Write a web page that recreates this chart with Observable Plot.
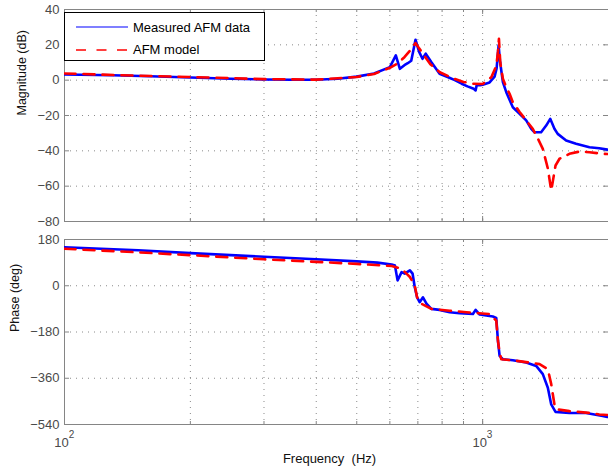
<!DOCTYPE html>
<html><head><meta charset="utf-8">
<script src="https://cdn.jsdelivr.net/npm/d3@7"></script>
<script src="https://cdn.jsdelivr.net/npm/@observablehq/plot@0.6"></script>
<style>
body{margin:0;background:#fff;}
#wrap{position:relative;width:608px;height:474px;font-family:"Liberation Sans",Arial,sans-serif;overflow:hidden;background:#fff}
#wrap svg{position:absolute;left:0}
#legend{position:absolute;left:64px;top:12px;width:199px;height:47px;border:1.5px solid #000;background:#fff;font-size:13px;color:#000}
#legend .row{position:absolute;left:0;height:16px;display:flex;align-items:center}
#legend svg{position:static}
</style></head><body><div id="wrap"></div>
<script>
// ---- data ----
const magFreqMeasured = [100,130,160,200,250,300,350,400,450,500,550,600,620,634,650,662,675,691,705,718,731,755,789,830,858,891,920,952,962,968,985,1000,1039,1068,1080,1092,1100,1118,1139,1181,1226,1271,1307,1331,1380,1419,1451,1485,1512,1584,1673,1801,1900,1988];
const magMeasured     = [3.2,2.8,2.2,1.5,0.8,0.4,0.2,0.2,0.8,2.0,3.8,7.4,14,6.4,8.5,9.6,11,22.9,16,12.1,15,10,3.6,1.5,0,-2.0,-3.5,-4.9,-5.8,-2.8,-2.9,-2.6,-1.3,2,6.6,19.7,11,-1.1,-6.8,-15.3,-19,-22.8,-27.5,-29.5,-29.5,-25.7,-21.9,-27.5,-30.4,-34.2,-36,-38,-38.5,-39.3];
const magFreqModel = [100,150,200,300,400,500,550,600,625,650,675,691,705,720,750,790,850,900,950,1000,1049,1078,1088,1094,1102,1118,1139,1160,1181,1226,1271,1318,1355,1393,1432,1459,1494,1527,1613,1704,1801,1934,1988];
const magModel     = [3.8,2.5,1.8,0.6,0.3,1.8,3.5,7,9.3,13,17.5,21,18,15,9,4.5,1,-1,-2,-2.2,1.7,8,16,23.4,10,0.8,-4,-7.7,-12.5,-18,-22.8,-27.5,-33,-38.9,-50,-62.5,-48.3,-44.5,-41.7,-40.4,-40.8,-41.7,-41.8];

const phaseFreqMeasured = [100,150,200,300,400,500,560,606,617,626,640,651,670,680,688,697,707,720,734,754,789,834,881,948,962,984,1058,1078,1088,1098,1118,1181,1271,1343,1393,1432,1459,1494,1613,1768,1937,1988];
const phaseMeasured     = [150,138,127,113,103,95,90,83,79,21,53,47,60,47,-5,-45,-64,-45,-70,-90,-94,-103,-107,-110,-94,-112,-120,-125,-214,-273,-286,-290,-299,-312,-344,-397,-462,-491,-495,-495,-507,-511];
const phaseFreqModel = [100,150,200,300,400,500,606,640,670,688,697,714,754,834,914,980,1039,1078,1088,1098,1108,1204,1294,1368,1432,1459,1485,1504,1613,1801,1902,1988];
const phaseModel     = [144,130,119,103,93,85,77,66,34,1,-45,-70,-90,-97,-103,-107,-110,-136,-214,-260,-286,-292,-299,-305,-325,-383,-462,-481,-488,-495,-501,-503];

const magTicks = [-80,-60,-40,-20,0,20,40];
const phaseTicks = [-540,-360,-180,0,180];
const freqGrid = [200,300,400,500,600,700,800,900,1000];
const decadeTicks = [100,1000];
const decadeExp = ["2","3"];
const seriesNames = ["Measured AFM data","AFM model"];

// ---- style ----
const BLUE = "#0000ff", RED = "#ff0000", AX = "#858585", GRID = "#8a8a8a", TXT = "#4a4a4a";
const FONT = "Liberation Sans, Arial, sans-serif";
const fmt = d => d < 0 ? "\u2212" + (-d) : String(d);
const rows = (fs, vs) => fs.map((f, i) => ({f, v: vs[i]}));

function panelTicks(yTicks, panelW, panelH) {
  const L = 5, l = 3;
  return [
    Plot.ruleY(yTicks, {stroke: AX, insetRight: panelW - L}),
    Plot.ruleY(yTicks, {stroke: AX, insetLeft: panelW - L}),
    Plot.ruleX(decadeTicks, {stroke: AX, insetTop: panelH - L}),
    Plot.ruleX(decadeTicks, {stroke: AX, insetBottom: panelH - L}),
    Plot.ruleX(freqGrid, {stroke: AX, insetTop: panelH - l}),
    Plot.ruleX(freqGrid, {stroke: AX, insetBottom: panelH - l})
  ];
}

const common = {
  width: 608, marginLeft: 64, marginRight: 0,
  style: {fontFamily: FONT, fontSize: "13px", background: "transparent", overflow: "visible"},
  x: {type: "log", domain: [100, 2000], axis: null, label: null}
};

const topPlot = Plot.plot({
  ...common, height: 230, marginTop: 9, marginBottom: 9,
  y: {domain: [-80, 40], axis: null, label: null},
  marks: [
    Plot.gridX(freqGrid, {stroke: GRID, strokeOpacity: 1, strokeDasharray: "1,5"}),
    Plot.gridY(magTicks, {stroke: GRID, strokeOpacity: 1, strokeDasharray: "1,5"}),
    Plot.frame({stroke: AX}),
    ...panelTicks(magTicks, 544, 212),
    Plot.axisY(magTicks, {tickSize: 0, tickPadding: 5, fill: TXT, tickFormat: fmt, fontSize: 13, label: null}),
    Plot.line(rows(magFreqMeasured, magMeasured), {x: "f", y: "v", stroke: BLUE, strokeWidth: 2.6, clip: true}),
    Plot.line(rows(magFreqModel, magModel), {x: "f", y: "v", stroke: RED, strokeWidth: 2.6, strokeDasharray: "11,8", clip: true}),
    Plot.text(["Magnitude (dB)"], {text: d => d, frameAnchor: "left", dx: -43, rotate: -90, fill: "#111", fontSize: 12.5})
  ]
});

const botPlot = Plot.plot({
  ...common, height: 244, marginTop: 9, marginBottom: 50,
  y: {domain: [-540, 180], axis: null, label: null},
  marks: [
    Plot.gridX(freqGrid, {stroke: GRID, strokeOpacity: 1, strokeDasharray: "1,5"}),
    Plot.gridY(phaseTicks, {stroke: GRID, strokeOpacity: 1, strokeDasharray: "1,5"}),
    Plot.frame({stroke: AX}),
    ...panelTicks(phaseTicks, 544, 185),
    Plot.axisY(phaseTicks, {tickSize: 0, tickPadding: 5, fill: TXT, tickFormat: fmt, fontSize: 13, label: null}),
    Plot.line(rows(phaseFreqMeasured, phaseMeasured), {x: "f", y: "v", stroke: BLUE, strokeWidth: 2.6, clip: true}),
    Plot.line(rows(phaseFreqModel, phaseModel), {x: "f", y: "v", stroke: RED, strokeWidth: 2.6, strokeDasharray: "11,8", clip: true}),
    Plot.text(decadeTicks, {x: d => d, text: () => "10", frameAnchor: "bottom", dy: 22, dx: -3, fill: TXT, fontSize: 13}),
    Plot.text(decadeTicks, {x: d => d, text: (d, i) => decadeExp[i], frameAnchor: "bottom", dy: 13, dx: 7, fill: TXT, fontSize: 10}),
    Plot.text(["Phase (deg)"], {text: d => d, frameAnchor: "left", dx: -50, rotate: -90, fill: "#111", fontSize: 12.5}),
    Plot.text(["Frequency  (Hz)"], {text: d => d, frameAnchor: "bottom", dy: 38, dx: -7, fill: "#111", fontSize: 13})
  ]
});

const wrap = document.getElementById("wrap");
topPlot.style.top = "0px";
botPlot.style.top = "230px";
wrap.appendChild(topPlot);
wrap.appendChild(botPlot);

// legend
const leg = document.createElement("div");
leg.id = "legend";
const swatch = [
  `<svg width="52" height="4"><line x1="0" x2="52" y1="2" y2="2" stroke="${BLUE}" stroke-width="1.2"/></svg>`,
  `<svg width="52" height="4"><line x1="0" x2="52" y1="2" y2="2" stroke="${RED}" stroke-width="1.5" stroke-dasharray="10,10.5"/></svg>`
];
seriesNames.forEach((name, i) => {
  const r = document.createElement("div");
  r.className = "row";
  r.style.top = (i === 0 ? 6 : 28.5) + "px";
  r.style.left = "11px";
  r.innerHTML = swatch[i] + `<span style="margin-left:5px;white-space:nowrap">${name}</span>`;
  leg.appendChild(r);
});
wrap.appendChild(leg);
</script></body></html>
